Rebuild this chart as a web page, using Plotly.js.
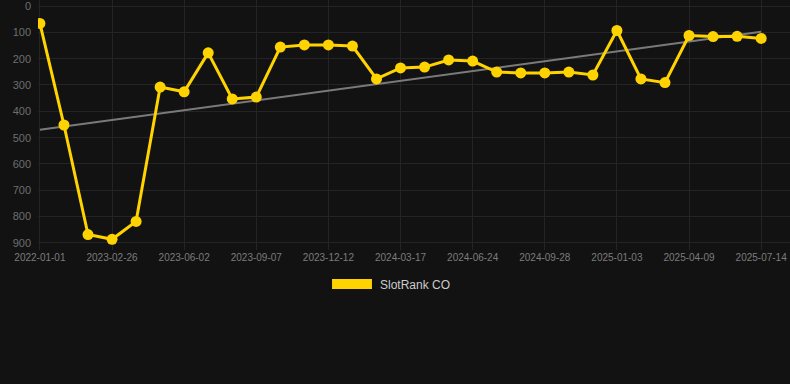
<!DOCTYPE html>
<html>
<head>
<meta charset="utf-8">
<script src="https://cdn.plot.ly/plotly-3.0.1.min.js"></script>
<style>
  html, body { margin: 0; padding: 0; background: #121212; }
  #chart { width: 790px; height: 384px; }
</style>
</head>
<body>
<div id="chart"></div>
<script>
const dates = [
  "2022-01-01", "2022-12-24", "2023-01-25", "2023-02-26", "2023-03-30", "2023-05-01",
  "2023-06-02", "2023-07-04", "2023-08-05", "2023-09-07", "2023-10-09", "2023-11-10",
  "2023-12-12", "2024-01-13", "2024-02-14", "2024-03-17", "2024-04-19", "2024-05-22",
  "2024-06-24", "2024-07-26", "2024-08-27", "2024-09-28", "2024-10-30", "2024-12-01",
  "2025-01-03", "2025-02-04", "2025-03-08", "2025-04-09", "2025-05-11", "2025-06-12",
  "2025-07-14"
];
const ranks = [
  66, 452, 868, 886, 818, 308,
  326, 178, 353, 346, 156, 148,
  148, 152, 277, 235, 232, 205,
  209, 251, 254, 254, 251, 262,
  93, 277, 291, 112, 116, 115,
  123
];
const tickLabels = [
  "2022-01-01", "2023-02-26", "2023-06-02", "2023-09-07", "2023-12-12", "2024-03-17",
  "2024-06-24", "2024-09-28", "2025-01-03", "2025-04-09", "2025-07-14"
];
const trendDates = ["2022-01-01", "2025-07-14"];
const trendValues = [470, 98];
const yTicks = [0, 100, 200, 300, 400, 500, 600, 700, 800, 900];
const seriesName = "SlotRank CO";

const trend = {
  type: "scatter",
  mode: "lines",
  x: trendDates,
  y: trendValues,
  line: { color: "#7a7a7a", width: 2 },
  hoverinfo: "skip",
  showlegend: false
};
const series = {
  type: "scatter",
  mode: "lines+markers",
  name: seriesName,
  x: dates,
  y: ranks,
  line: { color: "#FFD300", width: 3 },
  marker: { color: "#FFD300", size: 11 },
  showlegend: false
};

const layout = {
  width: 790,
  height: 384,
  paper_bgcolor: "#121212",
  plot_bgcolor: "#121212",
  margin: { l: 38, r: 0, t: 0, b: 134 },
  showlegend: false,
  xaxis: {
    type: "category",
    categoryorder: "array",
    categoryarray: dates,
    range: [-0.08, 31.2],
    tickmode: "array",
    tickvals: tickLabels,
    ticktext: tickLabels,
    showgrid: true,
    gridcolor: "#242424",
    gridwidth: 1,
    zeroline: false,
    showline: false,
    ticks: "",
    ticklabeloverflow: "allow",
    tickfont: { family: "Liberation Sans, Arial, sans-serif", size: 10, color: "#7c7c7c" }
  },
  yaxis: {
    range: [926.7, -22.8],
    tickmode: "array",
    tickvals: yTicks,
    ticktext: yTicks.map(String),
    showgrid: true,
    gridcolor: "#242424",
    gridwidth: 1,
    zeroline: false,
    showline: false,
    ticks: "",
    ticklabelstandoff: 6,
    ticklabeloverflow: "allow",
    tickfont: { family: "Liberation Sans, Arial, sans-serif", size: 11, color: "#6e6e6e" }
  },
  shapes: [{
    type: "rect",
    xref: "paper", yref: "paper",
    x0: 0.391, x1: 0.4441,
    y0: -0.156, y1: -0.116,
    fillcolor: "#FFD300",
    line: { width: 0 }
  }],
  annotations: [{
    xref: "paper", yref: "paper",
    x: 0.452, y: -0.138,
    xanchor: "left", yanchor: "middle",
    text: seriesName,
    showarrow: false,
    font: { family: "Liberation Sans, Arial, sans-serif", size: 12, color: "#cccccc" }
  }]
};

Plotly.newPlot("chart", [trend, series], layout, { displayModeBar: false, staticPlot: true });
</script>
</body>
</html>
